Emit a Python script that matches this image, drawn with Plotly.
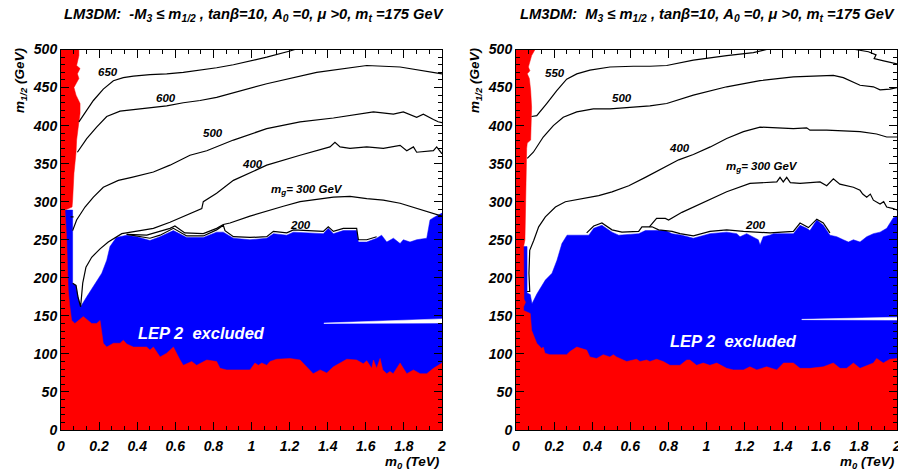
import plotly.graph_objects as go

# ---------------- values ----------------
# m0 in TeV, m1/2 in GeV

# ===== Left panel : -M3 <= m1/2 =====
L_STRIP_M0 = [0.094, 0.094, 0.082, 0.100, 0.086, 0.094, 0.068, 0.079, 0.100, 0.100, 0.094, 0.082,
              0.079, 0.068, 0.061, 0.058, 0.021, 0.030, 0.035, 0.038, 0.045, 0.056]
L_STRIP_M12 = [500, 492, 479, 475, 468, 462, 450, 440, 429, 416, 405, 381,
               365, 337, 302, 293, 289, 249, 206, 184, 165, 144]

L_FLOOR_M0 = [0.073, 0.117, 0.161, 0.187, 0.205, 0.222, 0.240, 0.275, 0.310, 0.327, 0.345, 0.380,
              0.450, 0.467, 0.485, 0.520, 0.555, 0.590, 0.625, 0.642, 0.686, 0.712, 0.765, 0.817,
              0.835, 0.870, 0.992, 1.018, 1.036, 1.054, 1.080, 1.097, 1.132, 1.202, 1.255, 1.290,
              1.324, 1.360, 1.395, 1.430, 1.465, 1.500, 1.552, 1.587, 1.605, 1.631, 1.640, 1.657,
              1.675, 1.689, 1.710, 1.727, 1.744, 1.780, 1.815, 1.850, 1.885, 1.920, 1.955, 2.000]
L_FLOOR_M12 = [140, 149, 140, 140, 144, 114, 109, 114, 114, 118, 113, 109,
               109, 105, 109, 96, 101, 109, 92, 85, 90, 85, 92, 90,
               81, 79, 79, 88, 85, 88, 85, 90, 93, 94, 92, 83,
               74, 79, 75, 83, 88, 93, 92, 87, 91, 81, 92, 81,
               94, 79, 74, 77, 74, 88, 74, 79, 74, 74, 81, 88]

L_BLUE_M0 = [0.021, 0.061, 0.061, 0.078, 0.089, 0.103, 0.135, 0.170, 0.214, 0.240, 0.257, 0.290,
             0.345, 0.397, 0.467, 0.520, 0.590, 0.660, 0.747, 0.817, 0.852, 0.905, 0.992, 1.080,
             1.115, 1.185, 1.220, 1.377, 1.403, 1.430, 1.482, 1.552, 1.561, 1.605, 1.657, 1.683,
             1.710, 1.745, 1.780, 1.797, 1.832, 1.867, 1.920, 1.937, 1.955, 2.000]
L_BLUE_M12 = [289, 289, 193, 190, 175, 162, 175, 188, 206, 223, 241, 253,
              256, 254, 249, 254, 262, 253, 253, 260, 260, 252, 250, 252,
              258, 256, 260, 258, 265, 258, 262, 262, 247, 247, 252, 256,
              247, 252, 245, 250, 247, 250, 252, 276, 279, 285]

L_STREAK_M0 = [1.38, 1.60, 1.80, 2.00]
L_STREAK_LO = [140.0, 140.0, 140.5, 140.5]
L_STREAK_HI = [140.5, 142.5, 144.0, 146.0]

L_C650_M0 = [0.094, 0.135, 0.170, 0.222, 0.275, 0.327, 0.380, 0.467, 0.555, 0.642, 0.730, 0.817,
             0.905, 1.080, 1.202, 1.228]
L_C650_M12 = [405, 420, 433, 448, 459, 463, 465, 467, 468, 470, 473, 476, 480, 490, 498, 500]

L_C600_M0 = [0.086, 0.135, 0.187, 0.240, 0.310, 0.380, 0.467, 0.555, 0.642, 0.730, 0.817, 0.905,
             1.080, 1.342, 1.605, 1.780, 1.954, 2.000]
L_C600_M12 = [365, 383, 398, 412, 419, 421, 424, 426, 430, 433, 437, 443, 455, 470, 479, 477, 470, 468]

L_C500_M0 = [0.061, 0.082, 0.126, 0.170, 0.222, 0.301, 0.371, 0.485, 0.572, 0.677, 0.765, 0.870,
             0.905, 1.080, 1.255, 1.430, 1.640, 1.745, 1.797, 1.867, 1.902, 1.955, 1.980, 2.000]
L_C500_M12 = [262, 276, 293, 306, 319, 328, 332, 339, 348, 361, 367, 377,
              381, 396, 405, 410, 418, 415, 418, 411, 415, 408, 405, 404]

L_C400_M0 = [0.061, 0.079, 0.089, 0.103, 0.114, 0.131, 0.161, 0.205, 0.248, 0.319, 0.415, 0.485,
             0.572, 0.660, 0.739, 0.747, 0.817, 0.905, 1.080, 1.255, 1.412, 1.438, 1.465, 1.517,
             1.605, 1.692, 1.780, 1.815, 1.850, 1.867, 1.955, 1.972, 2.000]
L_C400_M12 = [193, 190, 175, 162, 193, 214, 227, 238, 247, 258, 262, 265,
              273, 282, 291, 300, 311, 328, 348, 361, 372, 378, 372, 370,
              372, 370, 374, 367, 372, 365, 367, 372, 363]

L_C300_M0 = [0.345, 0.450, 0.572, 0.598, 0.650, 0.747, 0.817, 0.852, 0.887, 0.992, 1.167, 1.255,
             1.430, 1.517, 1.605, 1.692, 1.780, 1.867, 1.955, 2.000]
L_C300_M12 = [257, 256, 265, 268, 259, 258, 265, 270, 272, 281, 294, 300,
              306, 307, 304, 302, 298, 291, 284, 281]

L_C200_M0 = [0.345, 0.467, 0.520, 0.590, 0.660, 0.747, 0.817, 0.852, 0.861, 0.905, 0.992, 1.080,
             1.115, 1.185, 1.220, 1.377, 1.403, 1.430, 1.482, 1.552, 1.561, 1.605, 1.657]
L_C200_M12 = [257, 252, 256, 265, 255, 255, 263, 269, 262, 254, 253, 254,
              261, 259, 263, 261, 267, 261, 265, 265, 250, 250, 254]

L_DASH_M0 = [0.050, 0.066]
L_DASH_M12 = [280, 280]

# ===== Right panel : M3 <= m1/2 =====
R_STRIP_M0 = [0.100, 0.082, 0.065, 0.073, 0.059, 0.070, 0.077, 0.082, 0.077, 0.059, 0.056, 0.050,
              0.047, 0.040, 0.040, 0.042, 0.050, 0.040, 0.040, 0.075, 0.082]
R_STRIP_M12 = [500, 492, 477, 472, 468, 462, 446, 424, 381, 377, 370, 300,
               250, 241, 190, 172, 168, 162, 157, 153, 131]

R_FLOOR_M0 = [0.109, 0.135, 0.143, 0.152, 0.178, 0.266, 0.283, 0.319, 0.371, 0.388, 0.423, 0.458,
              0.493, 0.511, 0.528, 0.563, 0.581, 0.633, 0.651, 0.686, 0.703, 0.738, 0.773, 0.808,
              0.861, 0.896, 0.913, 0.948, 0.983, 1.018, 1.054, 1.106, 1.141, 1.194, 1.228, 1.264,
              1.316, 1.369, 1.404, 1.456, 1.491, 1.543, 1.613, 1.666, 1.701, 1.736, 1.771, 1.806,
              1.841, 1.876, 1.893, 1.928, 1.963, 2.000]
R_FLOOR_M12 = [114, 107, 109, 101, 99, 99, 103, 109, 105, 96, 94, 99,
               96, 99, 96, 92, 90, 93, 90, 92, 90, 93, 90, 85,
               85, 92, 92, 85, 88, 85, 88, 81, 79, 79, 83, 79,
               83, 79, 88, 88, 81, 81, 83, 88, 81, 81, 88, 81,
               85, 88, 94, 88, 93, 94]

R_BLUE_M0 = [0.040, 0.058, 0.058, 0.075, 0.084, 0.110, 0.154, 0.189, 0.215, 0.241, 0.268, 0.382,
             0.408, 0.451, 0.504, 0.539, 0.644, 0.679, 0.784, 0.819, 0.871, 0.931, 1.018, 1.106,
             1.159, 1.176, 1.211, 1.246, 1.272, 1.281, 1.298, 1.333, 1.351, 1.456, 1.491, 1.526,
             1.543, 1.579, 1.613, 1.648, 1.684, 1.718, 1.745, 1.771, 1.806, 1.841, 1.876, 1.911,
             1.946, 1.981, 2.000]
R_BLUE_M12 = [241, 241, 180, 178, 166, 179, 197, 206, 223, 245, 256, 256,
              265, 269, 260, 256, 258, 262, 262, 258, 256, 252, 258, 260,
              258, 254, 258, 254, 250, 243, 254, 256, 258, 258, 269, 265,
              262, 276, 269, 256, 254, 250, 247, 250, 247, 254, 258, 260,
              265, 279, 281]

R_STREAK_M0 = [1.50, 1.70, 1.85, 2.00]
R_STREAK_LO = [145.0, 144.8, 144.6, 144.4]
R_STREAK_HI = [145.4, 146.3, 147.2, 148.2]

R_C550A_M0 = [0.082, 0.109, 0.161, 0.214, 0.266, 0.319, 0.388, 0.493, 0.616, 0.703, 0.791, 0.931,
              1.106, 1.246, 1.316]
R_C550A_M12 = [412, 413, 429, 446, 461, 468, 473, 477, 478, 478, 479, 486, 492, 496, 500]
R_C550B_M0 = [1.780, 1.850, 1.890, 1.880, 1.930, 2.000]
R_C550B_M12 = [500, 497, 493, 488, 485, 481]

R_C500_M0 = [0.059, 0.091, 0.143, 0.196, 0.248, 0.319, 0.406, 0.493, 0.598, 0.703, 0.791, 0.931,
             1.106, 1.281, 1.456, 1.666, 1.718, 1.806, 1.876, 1.911, 1.963, 2.000]
R_C500_M12 = [357, 365, 385, 400, 411, 418, 422, 422, 424, 426, 429, 440,
              451, 459, 464, 466, 463, 453, 451, 447, 448, 450]

R_C400_M0 = [0.058, 0.072, 0.068, 0.072, 0.093, 0.119, 0.154, 0.207, 0.259, 0.346, 0.434, 0.504,
             0.592, 0.679, 0.766, 0.854, 0.931, 1.020, 1.106, 1.194, 1.281, 1.456, 1.526, 1.543,
             1.631, 1.806, 1.893, 1.946, 2.000]
R_C400_M12 = [182, 182, 206, 236, 249, 267, 280, 293, 300, 304, 308, 313,
              321, 332, 343, 355, 362, 372, 383, 392, 398, 396, 397, 394,
              394, 392, 389, 385, 385]

R_C300_M0 = [0.700, 0.738, 0.784, 0.801, 0.871, 0.931, 1.106, 1.228, 1.369, 1.386, 1.403, 1.421,
             1.440, 1.491, 1.596, 1.631, 1.666, 1.700, 1.771, 1.806, 1.820, 1.841, 1.860, 1.876,
             1.911, 1.930, 1.946, 1.981, 2.000]
R_C300_M12 = [267, 278, 278, 276, 286, 293, 313, 324, 326, 332, 326, 332,
              325, 324, 326, 321, 330, 323, 319, 315, 310, 306, 310, 302,
              297, 300, 293, 291, 289]

R_C200_M0 = [0.371, 0.408, 0.451, 0.504, 0.556, 0.644, 0.661, 0.714, 0.749, 0.819, 0.861, 0.931,
             1.018, 1.106, 1.194, 1.333, 1.456, 1.491, 1.535, 1.579, 1.613, 1.648]
R_C200_M12 = [259, 268, 272, 263, 260, 261, 267, 267, 263, 261, 258, 255,
              261, 263, 261, 259, 261, 272, 266, 277, 272, 259]

# contour labels (text, m0, m1/2)
GLUINO = "m<sub>g\u0303</sub>= 300 GeV"
L_LABELS = [("650", 0.247, 470), ("600", 0.551, 436), ("500", 0.798, 390),
            ("400", 1.003, 350), (GLUINO, 1.291, 315), ("200", 1.255, 269)]
R_LABELS = [("550", 0.205, 469), ("500", 0.555, 436), ("400", 0.856, 370),
            (GLUINO, 1.291, 345), ("200", 1.255, 269)]

TITLE_L = "LM3DM:&nbsp; -M<sub>3</sub> \u2264 m<sub>1/2</sub> , tan\u03b2=10, A<sub>0</sub> =0, \u03bc >0, m<sub>t</sub> =175 GeV"
TITLE_R = "LM3DM:&nbsp; M<sub>3</sub> \u2264 m<sub>1/2</sub> , tan\u03b2=10, A<sub>0</sub> =0, \u03bc >0, m<sub>t</sub> =175 GeV"

# ---------------- figure ----------------
FONT = "Liberation Sans, Arial, Helvetica, sans-serif"
RED = "#ff0000"
BLUE = "#0000ff"
W, H = 898, 473

fig = go.Figure()


def poly(xs, ys, color, xa, ya):
    fig.add_trace(go.Scatter(x=xs, y=ys, fill="toself", fillcolor=color, mode="lines",
                             line=dict(width=0.5, color=color), hoverinfo="skip",
                             showlegend=False, xaxis=xa, yaxis=ya))


def curve(xs, ys, xa, ya):
    fig.add_trace(go.Scatter(x=xs, y=ys, mode="lines", line=dict(color="black", width=1.2),
                             hoverinfo="skip", showlegend=False, xaxis=xa, yaxis=ya))


def panel(xa, ya, blue_m0, blue_m12, strip_m0, strip_m12, floor_m0, floor_m12,
          st_m0, st_lo, st_hi, contours):
    # blue (LEP 2) region
    poly(blue_m0 + [2.0, 0.0, 0.0], blue_m12 + [0, 0, blue_m12[0]], BLUE, xa, ya)
    # red region (strip on the left + floor)
    poly([0.0, 0.0] + strip_m0 + floor_m0 + [2.0],
         [0, 500] + strip_m12 + floor_m12 + [0], RED, xa, ya)
    # thin white streak inside the blue
    poly(st_m0 + st_m0[::-1], st_lo + st_hi[::-1], "white", xa, ya)
    for cx, cy in contours:
        curve(cx, cy, xa, ya)


panel("x", "y", L_BLUE_M0, L_BLUE_M12, L_STRIP_M0, L_STRIP_M12, L_FLOOR_M0, L_FLOOR_M12,
      L_STREAK_M0, L_STREAK_LO, L_STREAK_HI,
      [(L_C650_M0, L_C650_M12), (L_C600_M0, L_C600_M12), (L_C500_M0, L_C500_M12),
       (L_C400_M0, L_C400_M12), (L_C300_M0, L_C300_M12), (L_C200_M0, L_C200_M12),
       (L_DASH_M0, L_DASH_M12)])
panel("x2", "y2", R_BLUE_M0, R_BLUE_M12, R_STRIP_M0, R_STRIP_M12, R_FLOOR_M0, R_FLOOR_M12,
      R_STREAK_M0, R_STREAK_LO, R_STREAK_HI,
      [(R_C550A_M0, R_C550A_M12), (R_C550B_M0, R_C550B_M12), (R_C500_M0, R_C500_M12),
       (R_C400_M0, R_C400_M12), (R_C300_M0, R_C300_M12), (R_C200_M0, R_C200_M12)])

tickfont = dict(family=FONT, size=14, color="black", weight="bold", style="italic")
Y_DOM = [43 / H, 423.5 / H]


def xaxis(dom, anchor):
    return dict(domain=dom, anchor=anchor, range=[0, 2], tick0=0, dtick=0.2,
                ticks="inside", ticklen=8, tickwidth=1, tickcolor="black",
                showline=True, linecolor="black", linewidth=1, mirror="ticks",
                showgrid=False, zeroline=False, tickfont=tickfont, ticklabelstandoff=3,
                automargin=False, ticklabeloverflow="allow",
                minor=dict(dtick=0.2 / 3, tick0=0, ticks="inside", ticklen=4,
                           tickcolor="black", tickwidth=1, showgrid=False),
                fixedrange=True)


def yaxis(anchor):
    return dict(domain=Y_DOM, anchor=anchor, range=[0, 500], tick0=0, dtick=50,
                ticks="inside", ticklen=8, tickwidth=1, tickcolor="black",
                showline=True, linecolor="black", linewidth=1, mirror="ticks",
                showgrid=False, zeroline=False, tickfont=tickfont, automargin=False,
                ticklabeloverflow="allow",
                minor=dict(dtick=10, tick0=0, ticks="inside", ticklen=4,
                           tickcolor="black", tickwidth=1, showgrid=False),
                fixedrange=True)


ann = []
bi = dict(family=FONT, color="black", weight="bold", style="italic")

for xa, ya, lab in [("x", "y", L_LABELS), ("x2", "y2", R_LABELS)]:
    for t, mx, my in lab:
        ann.append(dict(text=t, x=mx, y=my, xref=xa, yref=ya, showarrow=False,
                        font=dict(size=11.5, **bi)))

# titles
ann.append(dict(text=TITLE_L, x=62 / W, y=(H - 15) / H, xref="paper", yref="paper",
                xanchor="left", yanchor="middle", showarrow=False, font=dict(size=14.7, **bi)))
ann.append(dict(text=TITLE_R, x=518 / W, y=(H - 15) / H, xref="paper", yref="paper",
                xanchor="left", yanchor="middle", showarrow=False, font=dict(size=14.7, **bi)))

# axis titles
for xl, xr in [(20, 442), (475, 897)]:
    ann.append(dict(text="m<sub>1/2</sub> (GeV)", x=xl / W, y=(H - 81) / H, xref="paper",
                    yref="paper", textangle=-90, xanchor="center", yanchor="middle",
                    showarrow=False, font=dict(size=13.5, **bi)))
    ann.append(dict(text="m<sub>0</sub> (TeV)", x=xr / W, y=(H - 462) / H, xref="paper",
                    yref="paper", xanchor="right", yanchor="middle", showarrow=False,
                    font=dict(size=13.5, **bi)))

# LEP 2 excluded
for xa, ya, mx, my in [("x", "y", 0.74, 127), ("x2", "y2", 1.144, 117)]:
    ann.append(dict(text="LEP 2&nbsp; excluded", x=mx, y=my, xref=xa, yref=ya, showarrow=False,
                    font=dict(family=FONT, size=16.5, color="white", weight="bold",
                              style="italic")))

fig.update_layout(
    width=W, height=H, margin=dict(l=0, r=0, t=0, b=0, autoexpand=False),
    paper_bgcolor="white", plot_bgcolor="white", showlegend=False,
    xaxis=xaxis([61 / W, 442 / W], "y"),
    yaxis=yaxis("x"),
    xaxis2=xaxis([516 / W, 897 / W], "y2"),
    yaxis2=yaxis("x2"),
    annotations=ann,
)

fig.write_html("out.html")
